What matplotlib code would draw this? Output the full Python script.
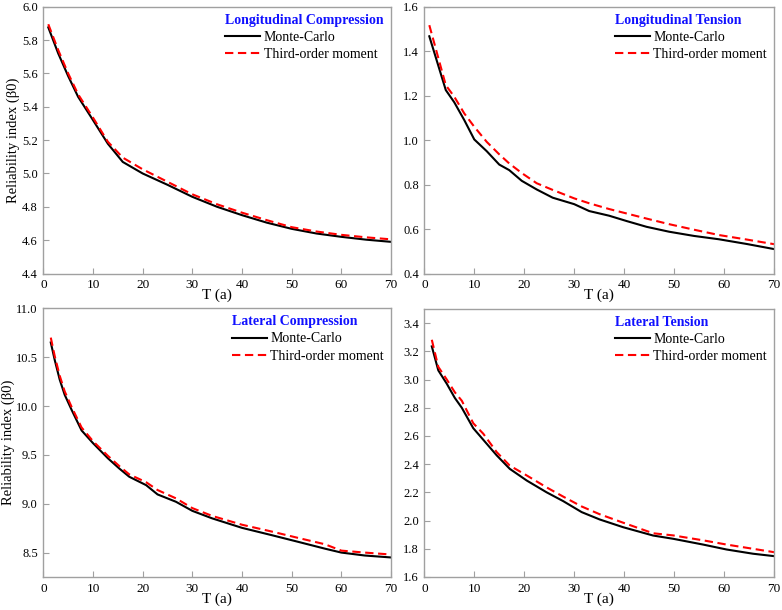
"""
Reliability index vs service time T for four loading cases,
Monte-Carlo vs third-order moment method.
"""
import matplotlib
matplotlib.use('Agg')
import matplotlib.pyplot as plt
import numpy as np

plt.rcParams['font.family'] = ['Liberation Serif', 'DejaVu Serif']

# Longitudinal compression
T_LC = [1, 3, 5, 7, 10, 13, 16, 20, 25, 30, 35, 40, 45, 50, 55, 60, 65, 70]
MC_LC = [5.876, 5.72, 5.584, 5.46, 5.32, 5.178, 5.069, 5.0, 4.932, 4.86, 4.80,
         4.75, 4.705, 4.668, 4.64, 4.62, 4.603, 4.59]
TOM_LC = [5.895, 5.74, 5.60, 5.475, 5.335, 5.19, 5.095, 5.025, 4.95, 4.875, 4.815,
          4.765, 4.72, 4.678, 4.652, 4.632, 4.617, 4.605]

# Longitudinal tension
T_LT = [1, 4.3, 6, 8, 10, 12.5, 15, 17, 19.5, 22.5, 25.7, 30, 33, 37, 40.5,
        44.5, 49, 54, 59, 64.5, 70]
MC_LT = [1.467, 1.225, 1.17, 1.09, 1.003, 0.95, 0.89, 0.865, 0.817, 0.778, 0.741,
         0.712, 0.681, 0.66, 0.636, 0.61, 0.588, 0.569, 0.554, 0.533, 0.51]
TOM_LT = [1.517, 1.247, 1.195, 1.12, 1.06, 0.992, 0.936, 0.895, 0.852, 0.806, 0.776,
          0.738, 0.716, 0.69, 0.67, 0.647, 0.622, 0.597, 0.573, 0.553, 0.532]

# Lateral compression
T_TC = [1.5, 2.3, 3.3, 4.3, 5.7, 7.7, 10, 13, 15.3, 17.3, 20.7, 23, 26.7, 30, 34,
        40, 46, 51.3, 56.7, 60, 64.7, 70]
MC_TC = [10.65, 10.47, 10.27, 10.115, 9.96, 9.75, 9.62, 9.465, 9.36, 9.276, 9.19,
         9.095, 9.02, 8.927, 8.85, 8.753, 8.678, 8.61, 8.54, 8.50, 8.47, 8.45]
TOM_TC = [10.70, 10.51, 10.31, 10.15, 9.99, 9.78, 9.64, 9.49, 9.385, 9.30, 9.22,
          9.14, 9.055, 8.955, 8.875, 8.785, 8.715, 8.65, 8.585, 8.52, 8.50, 8.48]

# Lateral tension
T_TT = [1.5, 2.8, 4.5, 6.1, 7.5, 9.8, 11.8, 14.5, 17.1, 20.5, 24.5, 27.8, 31.5,
        35.1, 39.8, 45.8, 49.8, 55.8, 60.5, 65.8, 70]
MC_TT = [3.235, 3.065, 2.97, 2.87, 2.80, 2.655, 2.573, 2.462, 2.367, 2.284, 2.20,
         2.138, 2.06, 2.008, 1.953, 1.894, 1.871, 1.83, 1.795, 1.765, 1.748]
TOM_TT = [3.282, 3.09, 3.00, 2.91, 2.85, 2.69, 2.616, 2.485, 2.39, 2.32, 2.235,
          2.17, 2.10, 2.045, 1.985, 1.91, 1.895, 1.86, 1.83, 1.80, 1.776]

PANELS = [
    ('Longitudinal Compression', T_LC, MC_LC, TOM_LC, (4.4, 6.0), np.arange(4.4, 6.01, 0.2)),
    ('Longitudinal Tension', T_LT, MC_LT, TOM_LT, (0.4, 1.6), np.arange(0.4, 1.61, 0.2)),
    ('Lateral Compression', T_TC, MC_TC, TOM_TC, (8.25, 11.0), np.arange(8.5, 11.01, 0.5)),
    ('Lateral Tension', T_TT, MC_TT, TOM_TT, (1.6, 3.5), np.arange(1.6, 3.41, 0.2)),
]

# axes rectangles in figure fraction (left, bottom, width, height)
RECTS = [
    [0.0554, 0.5516, 0.4446, 0.4374],
    [0.5426, 0.5516, 0.4472, 0.4374],
    [0.0554, 0.0541, 0.4446, 0.4405],
    [0.5426, 0.0541, 0.4472, 0.4393],
]
# ylabel anchor (right edge of the rotated text) in axes fraction
YLABEL_X = {0: -0.066, 2: -0.081}

SPINE = '#a0a0a0'


def main():
    fig = plt.figure(figsize=(7.82, 6.10), dpi=100)

    for i, (title, t, mc, tom, ylim, yticks) in enumerate(PANELS):
        ax = fig.add_axes(RECTS[i])
        ax.plot(t, mc, color='black', lw=1.5, label='Monte-Carlo')
        ax.plot(t, tom, color='#ff0000', lw=1.5, ls=(0, (4, 2.2)), label='Third-order moment')

        ax.set_xlim(0, 70)
        ax.set_xticks(range(0, 71, 10))
        ax.set_ylim(*ylim)
        ax.set_yticks(yticks)
        ax.set_yticklabels([f'{v:.1f}' for v in yticks])

        for s in ax.spines.values():
            s.set_color(SPINE)
            s.set_linewidth(1.0)
        ax.tick_params(direction='in', length=4, width=0.8, color=SPINE, pad=4)
        ax.tick_params(axis='x', labelsize=9.5)
        ax.tick_params(axis='y', labelsize=9)

        ax.set_xlabel('T (a)', fontsize=11, labelpad=-1.5)
        if i in YLABEL_X:
            ax.set_ylabel('Reliability index (β0)', fontsize=10.5)
            ax.yaxis.set_label_coords(YLABEL_X[i], 0.5)

        leg = ax.legend(loc='upper right', frameon=False, fontsize=10,
                        title=title, alignment='left',
                        title_fontproperties={'weight': 'bold', 'size': 10},
                        handlelength=2.5, handletextpad=0.25, labelspacing=0.3,
                        borderaxespad=0.2, borderpad=0.3)
        leg.get_title().set_color('#1010ff')

    plt.savefig('out.png', dpi=100)
    plt.close()


if __name__ == '__main__':
    main()
